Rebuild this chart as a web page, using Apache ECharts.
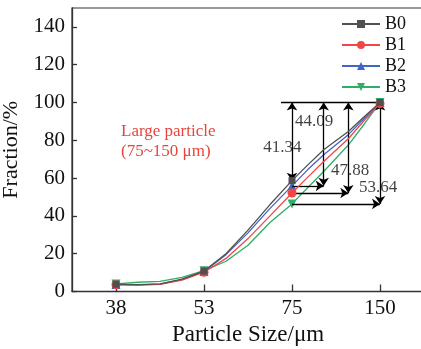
<!DOCTYPE html>
<html><head><meta charset="utf-8">
<script src="https://cdn.jsdelivr.net/npm/echarts@6/dist/echarts.min.js"></script>
<style>html,body{margin:0;padding:0;background:#fff}#c{width:421px;height:349px}</style>
</head><body><div id="c"></div>
<script>
// Category tick labels (particle size, µm) placed at index positions 0..3
const sizeTicks = ['38', '53', '75', '150'];
const yTicks = [0, 20, 40, 60, 80, 100, 120, 140];
// x positions of the read points, in category-index units (0 = 38 µm, 3 = 150 µm)
const xPos = [0, 0.25, 0.5, 0.75, 1, 1.25, 1.5, 1.75, 2, 2.18, 2.36, 2.64, 2.82, 3];
const B0 = [3.8, 3.6, 4.0, 6.5, 10.8, 20.0, 32.5, 46.0, 58.66, 67.0, 75.0, 84.7, 92.5, 100];
const B1 = [3.6, 3.4, 3.8, 6.0, 10.2, 17.5, 28.0, 40.0, 52.12, 60.5, 68.8, 80.8, 90.5, 99.5];
const B2 = [3.7, 3.5, 3.9, 6.3, 10.6, 19.5, 31.0, 44.0, 55.91, 64.5, 72.4, 83.0, 91.5, 100];
const B3 = [4.0, 4.9, 5.4, 7.5, 11.0, 16.0, 24.5, 36.5, 46.36, 55.0, 63.5, 77.5, 88.5, 100];
const seriesNames = ['B0', 'B1', 'B2', 'B3'];
const annotText = 'Large particle\n(75~150 μm)';

const FONT = "'Liberation Serif', 'DejaVu Serif', serif";
const colors = ['#505050', '#f04646', '#3f66c6', '#2fae68'];
const symbols = ['rect', 'circle', 'triangle', 'triangle'];
const symSizes = [7, 9, 9, 9];
const rotations = [0, 0, 0, 180];
const allData = [B0, B1, B2, B3];

const lineSeries = allData.map((arr, s) => ({
  name: seriesNames[s],
  type: 'line',
  symbol: symbols[s],
  symbolSize: symSizes[s],
  symbolRotate: rotations[s],
  showAllSymbol: true,
  lineStyle: { color: colors[s], width: 1.3 },
  itemStyle: { color: colors[s] },
  z: 3 + (3 - s),
  data: arr.map((v, i) => ({
    value: [xPos[i], v],
    symbol: Number.isInteger(xPos[i]) ? symbols[s] : 'none'
  }))
}));

// Annotation: differences at 75 µm to 100 %
const i75 = xPos.indexOf(2);
const order = [0, 2, 1, 3];           // B0, B2, B1, B3
const arrowX = [2, 2.36, 2.64, 3];
const levels = order.map(s => allData[s][i75]);
const labelPos = [[1.89, 76.1], [2.25, 89.8], [2.66, 63.9], [2.98, 54.9]];

const mlData = [];
mlData.push([{ coord: [1.875, 100], symbol: 'none' }, { coord: [3, 100], symbol: 'none' }]);
levels.forEach((lv, k) => {
  mlData.push([{ coord: [arrowX[k], 100], symbol: 'arrow' }, { coord: [arrowX[k], lv], symbol: 'arrow' }]);
  if (k > 0) mlData.push([{ coord: [2, lv], symbol: 'none' }, { coord: [arrowX[k], lv], symbol: 'arrow' }]);
});

const annotSeries = {
  type: 'scatter',
  name: 'annot',
  symbolSize: 0,
  silent: true,
  z: 10,
  label: { show: true, position: 'inside', formatter: '{b}', fontFamily: FONT, fontSize: 17, color: '#111' },
  data: levels.map((lv, k) => ({ name: (100 - lv).toFixed(2), value: labelPos[k] })),
  markLine: {
    silent: true,
    symbolSize: 8,
    label: { show: false },
    lineStyle: { color: '#000', width: 1.3, type: 'solid' },
    data: mlData
  }
};

const chart = echarts.init(document.getElementById('c'), null, { renderer: 'canvas' });
chart.setOption({
  animation: false,
  backgroundColor: '#fff',
  grid: { left: 72, top: 8, width: 352, height: 283.5, show: true, borderColor: '#333', borderWidth: 1.2, containLabel: false, outerBoundsMode: 'none' },
  legend: {
    data: seriesNames,
    orient: 'vertical',
    right: 10,
    top: 10,
    itemWidth: 38,
    itemHeight: 10,
    itemGap: 3,
    textStyle: { fontFamily: FONT, fontSize: 18, color: '#111' }
  },
  xAxis: {
    type: 'value',
    min: -0.5,
    max: 3.5,
    name: 'Particle Size/μm',
    nameLocation: 'middle',
    nameGap: 32,
    nameTextStyle: { fontFamily: FONT, fontSize: 23, color: '#111' },
    axisLine: { onZero: false, lineStyle: { color: '#333', width: 1.3 } },
    axisTick: { inside: true, length: 7, customValues: [0, 1, 2, 3], lineStyle: { color: '#333', width: 1.3 } },
    axisLabel: { customValues: [0, 1, 2, 3], formatter: v => sizeTicks[v], fontFamily: FONT, fontSize: 21, color: '#111', margin: 6 },
    splitLine: { show: false }
  },
  yAxis: {
    type: 'value',
    min: 0,
    max: 150,
    name: 'Fraction/%',
    nameLocation: 'middle',
    nameGap: 39,
    nameTextStyle: { fontFamily: FONT, fontSize: 22, color: '#111' },
    axisLine: { show: true, onZero: false, lineStyle: { color: '#333', width: 1.3 } },
    axisTick: { show: true, inside: true, length: 5, customValues: yTicks, lineStyle: { color: '#333', width: 1.3 } },
    axisLabel: { customValues: yTicks, fontFamily: FONT, fontSize: 21, color: '#111', margin: 7 },
    splitLine: { show: false }
  },
  graphic: [{
    type: 'text', left: 121, top: 122,
    style: { text: annotText, fill: '#e8453c', font: '17px ' + FONT, lineHeight: 20 }
  }],
  series: [...lineSeries, annotSeries]
});
</script>
</body></html>
